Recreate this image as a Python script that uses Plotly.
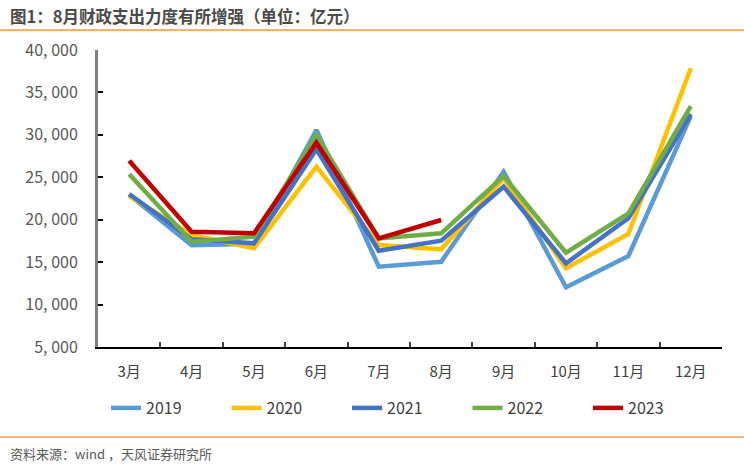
import plotly.graph_objects as go

months = ["3月", "4月", "5月", "6月", "7月", "8月", "9月", "10月", "11月", "12月"]
years = ["2019", "2020", "2021", "2022", "2023"]
v2019 = [22900, 17000, 17150, 30570, 14460, 15050, 25660, 12030, 15720, 32200]
v2020 = [22800, 18200, 16630, 26250, 17020, 16510, 24880, 14270, 18320, 37840]
v2021 = [23030, 17700, 17220, 28300, 16350, 17530, 23890, 14860, 20170, 32460]
v2022 = [25350, 17410, 18000, 29980, 17800, 18400, 25150, 16110, 20750, 33400]
v2023 = [26950, 18590, 18400, 29080, 17810, 19970]
series = [v2019, v2020, v2021, v2022, v2023]
colors = ["#5B9BD5", "#FFC000", "#4472C4", "#70AD47", "#C00000"]
ytick_vals = [5000, 10000, 15000, 20000, 25000, 30000, 35000, 40000]
ytick_text = ["5, 000", "10, 000", "15, 000", "20, 000", "25, 000", "30, 000", "35, 000", "40, 000"]

FONT = "Noto Sans CJK SC"

fig = go.Figure()
for name, vals, col in zip(years, series, colors):
    fig.add_trace(go.Scatter(
        x=months[:len(vals)], y=vals, name=name, mode="lines",
        line=dict(color=col, width=4.5),
    ))

L, R, T, B = 98, 22, 50, 122
W, H = 744, 469
pw = W - L - R
ph = H - T - B

fig.update_layout(
    width=W, height=H,
    margin=dict(l=L, r=R, t=T, b=B, pad=0),
    paper_bgcolor="white", plot_bgcolor="white",
    font=dict(family=FONT, color="#404040", size=15),
    showlegend=True,
    legend=dict(
        orientation="h", x=8 / pw, xanchor="left",
        y=(347 - 408) / ph, yanchor="middle",
        entrywidth=75.5, entrywidthmode="pixels",
        font=dict(family=FONT, size=16, color="#404040"),
        bgcolor="rgba(0,0,0,0)",
    ),
    xaxis=dict(
        type="category", categoryorder="array", categoryarray=months,
        range=[-0.5, 9.5],
        showline=True, linecolor="#000000", linewidth=2,
        ticks="inside", ticklen=5, tickcolor="#404040", tickwidth=1.5,
        tickson="boundaries", showgrid=False, zeroline=False,
        tickfont=dict(family=FONT, size=15, color="#404040"),
        ticklabelstandoff=10,
    ),
    yaxis=dict(
        range=[5000, 40000],
        tickvals=ytick_vals, ticktext=ytick_text,
        showline=True, linecolor="#7f7f7f", linewidth=3,
        ticks="inside", ticklen=5, tickcolor="#000000", tickwidth=1.5,
        showgrid=False, zeroline=False,
        tickfont=dict(family=FONT, size=16, color="#595959"),
        ticklabelstandoff=14,
    ),
)

# header / footer decorations
fig.add_shape(type="line", xref="paper", yref="paper",
              x0=-L / pw, x1=(W - L) / pw, y0=(347 - 30) / ph, y1=(347 - 30) / ph,
              line=dict(color="#F39A3C", width=1.5))
fig.add_shape(type="line", xref="paper", yref="paper",
              x0=-L / pw, x1=(W - L) / pw, y0=(347 - 437) / ph, y1=(347 - 437) / ph,
              line=dict(color="#F39A3C", width=1.5))

fig.add_annotation(text="<b>图1：8月财政支出力度有所增强（单位：亿元）</b>",
                   xref="paper", yref="paper", x=(8 - L) / pw, y=(347 - 16) / ph,
                   xanchor="left", yanchor="middle", showarrow=False,
                   font=dict(family=FONT, size=16.5, color="#4a4a4a"))
fig.add_annotation(text="资料来源：wind ，天风证券研究所",
                   xref="paper", yref="paper", x=(8 - L) / pw, y=(347 - 453) / ph,
                   xanchor="left", yanchor="middle", showarrow=False,
                   font=dict(family=FONT, size=13, color="#595959"))

fig.write_html("out.html")
